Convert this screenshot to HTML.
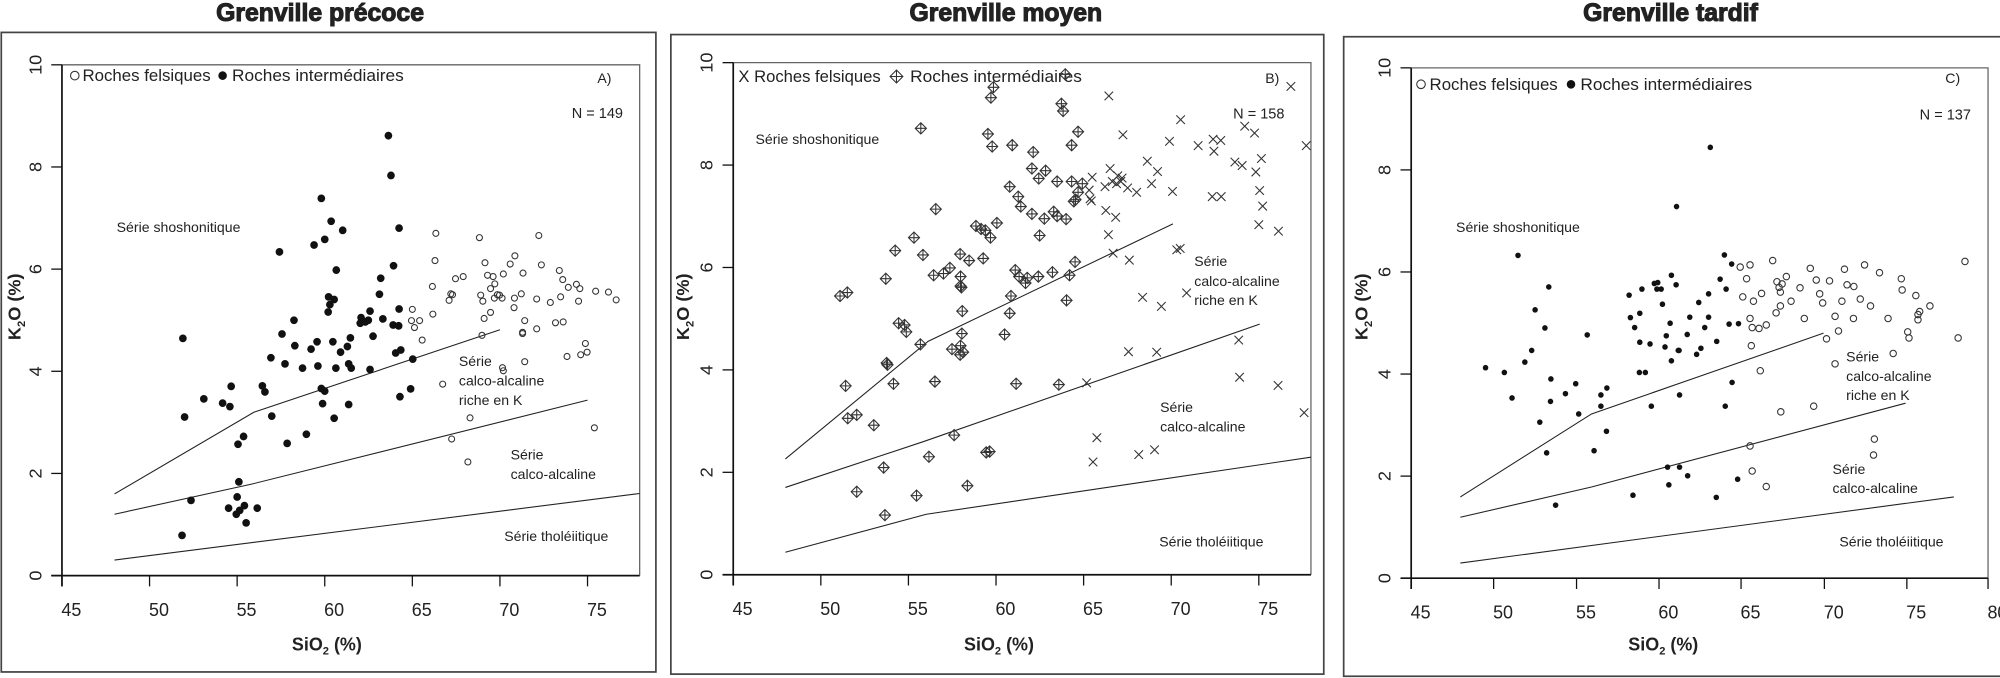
<!DOCTYPE html>
<html><head><meta charset="utf-8"><style>
html,body{margin:0;padding:0;background:#fff;width:2000px;height:678px;overflow:hidden;position:relative}
svg{position:absolute;top:0}
text{font-family:"Liberation Sans",sans-serif;fill:#222}
</style></head><body>
<svg id="A" style="left:0" width="670" height="678" viewBox="0 0 1568 1569" preserveAspectRatio="none"></svg>
<svg id="B" style="left:670px" width="670" height="678" viewBox="0 0 1568 1569" preserveAspectRatio="none"></svg>
<svg id="C" style="left:1330px" width="670" height="678" viewBox="0 0 1568 1569" preserveAspectRatio="none"></svg>
<script>
function P(s){var a=s.trim().split(/\s+/).map(Number),r=[];for(var i=0;i<a.length;i+=2)r.push([a[i],a[i+1]]);return r;}
function build(id,o){
 var h='';
 h+='<text x="'+o.tx+'" y="48" text-anchor="middle" font-size="58" font-weight="bold" stroke="#222" stroke-width="2.5" style="fill:#222">'+o.title+'</text>';
 h+='<rect x="'+o.box[0]+'" y="'+o.box[1]+'" width="'+(o.box[2]-o.box[0])+'" height="'+(o.box[3]-o.box[1])+'" fill="none" stroke="#444" stroke-width="4"/>';
 var L=o.L,T=o.T,R=o.R,B=o.B;
 h+='<polyline points="'+L+','+T+' '+R+','+T+' '+R+','+B+'" fill="none" stroke="#666" stroke-width="3"/>';
 h+='<line x1="'+(L-25)+'" y1="'+B+'" x2="'+R+'" y2="'+B+'" stroke="#111" stroke-width="4"/>';
 h+='<line x1="'+L+'" y1="'+T+'" x2="'+L+'" y2="'+(B+25)+'" stroke="#111" stroke-width="4"/>';
 for(var i=0;i<6;i++){var y=B-(B-T)*i/5;h+='<line x1="'+(L-25)+'" y1="'+y+'" x2="'+L+'" y2="'+y+'" stroke="#111" stroke-width="3"/>';
  h+='<text transform="translate('+(L-48)+','+y+') rotate(-90)" text-anchor="middle" font-size="42">'+(i*2)+'</text>';}
 o.xt.forEach(function(x,i){h+='<line x1="'+x+'" y1="'+B+'" x2="'+x+'" y2="'+(B+25)+'" stroke="#111" stroke-width="3"/>';
  h+='<text x="'+(x+22)+'" y="'+(B+93)+'" text-anchor="middle" font-size="42">'+(45+5*i)+'</text>';});
 h+='<text x="'+o.xlab[0]+'" y="'+o.xlab[1]+'" text-anchor="middle" font-size="42" font-weight="bold">SiO<tspan font-size="26" dy="10">2</tspan><tspan dy="-10"> (%)</tspan></text>';
 h+='<text transform="translate('+o.ylab[0]+','+o.ylab[1]+') rotate(-90)" text-anchor="middle" font-size="42" font-weight="bold">K<tspan font-size="26" dy="10">2</tspan><tspan dy="-10">O (%)</tspan></text>';
 o.lines.forEach(function(l){h+='<polyline points="'+l+'" fill="none" stroke="#222" stroke-width="2.5"/>';});
 o.texts.forEach(function(t){h+='<text x="'+t[0]+'" y="'+t[1]+'" font-size="'+(t[3]||33)+'">'+t[2]+'</text>';});
 h+=o.legend;
 P(o.filled).forEach(function(p){h+='<circle cx="'+p[0]+'" cy="'+p[1]+'" r="'+o.fr+'" fill="#111"/>';});
 P(o.open).forEach(function(p){h+='<circle cx="'+p[0]+'" cy="'+p[1]+'" r="'+o.or+'" fill="none" stroke="#333" stroke-width="2.5"/>';});
 if(o.diam)P(o.diam).forEach(function(p){var x=p[0],y=p[1],s=13;h+='<path d="M'+(x-s)+' '+y+'L'+x+' '+(y-s)+'L'+(x+s)+' '+y+'L'+x+' '+(y+s)+'ZM'+(x-s)+' '+y+'H'+(x+s)+'M'+x+' '+(y-s)+'V'+(y+s)+'" fill="none" stroke="#333" stroke-width="2.5"/>';});
 if(o.cross)P(o.cross).forEach(function(p){var x=p[0],y=p[1],s=10;h+='<path d="M'+(x-s)+' '+(y-s)+'L'+(x+s)+' '+(y+s)+'M'+(x-s)+' '+(y+s)+'L'+(x+s)+' '+(y-s)+'" stroke="#333" stroke-width="2.5"/>';});
 document.getElementById(id).innerHTML=h;
}
var legO='<circle cx="175" cy="175" r="10" fill="none" stroke="#333" stroke-width="2.5"/><text x="193" y="187" font-size="38" textLength="300" lengthAdjust="spacingAndGlyphs">Roches felsiques</text><circle cx="521" cy="175" r="10" fill="#111"/><text x="543" y="187" font-size="38" textLength="402" lengthAdjust="spacingAndGlyphs">Roches intermédiaires</text>';
build('A',{title:'Grenville précoce',tx:749,box:[3,75,1535,1555],L:145,T:150,R:1497,B:1332,
 xt:[145,350,555,760,965,1170,1375],xlab:[765,1505],ylab:[48,710],
 lines:['268,1143 594,954 1170,763','268,1190 590,1120 1375,926','268,1296 1497,1142'],
 texts:[[273,537,'Série shoshonitique'],[1074,847,'Série'],[1074,892,'calco-alcaline'],[1074,937,'riche en K'],[1195,1063,'Série'],[1195,1108,'calco-alcaline'],[1180,1252,'Série tholéiitique'],[1398,192,'A)'],[1338,273,'N = 149',34]],
 legend:legO,fr:9,or:7,
 filled:'909 314 915 406 752 459 775 512 802 533 735 567 760 554 654 583 934 528 921 615 787 625 891 644 769 687 782 693 772 705 768 722 888 681 934 715 845 735 866 720 843 748 855 745 862 741 896 738 920 752 933 754 688 741 660 773 873 778 690 800 779 791 742 791 728 808 820 782 813 802 797 815 634 828 667 842 708 852 744 847 786 852 816 842 822 852 866 855 926 817 938 810 966 831 428 783 477 923 521 933 538 941 541 894 614 893 620 907 752 899 760 905 961 900 936 918 755 934 816 936 432 965 636 963 782 968 570 1010 557 1028 672 1026 717 1005 559 1115 555 1150 447 1158 535 1176 553 1190 561 1181 572 1170 602 1176 576 1210 426 1239',
 open:'1020 540 1018 603 1122 550 1261 545 1135 608 1194 611 1205 592 1267 613 1309 626 1224 632 1178 634 1141 637 1154 640 1084 640 1066 645 1012 663 1055 680 1059 682 1051 695 1125 683 1148 668 1158 657 1164 682 1157 690 1169 683 1130 697 1204 690 1220 680 1256 692 1288 700 1312 687 1317 647 1330 665 1349 658 1357 668 1354 697 1394 674 1424 676 1442 694 1133 737 1148 723 1175 690 1203 712 965 716 963 742 982 742 970 758 1013 727 988 787 1128 776 1228 742 1256 761 1300 747 1318 745 1223 769 1223 772 1228 837 1176 851 1178 858 1370 795 1374 815 1359 821 1327 825 1036 889 1100 967 1057 1016 1095 1069 1391 990'});
build('B',{title:'Grenville moyen',tx:786,box:[2,80,1530,1560],L:148,T:145,R:1500,B:1330,
 xt:[148,353,558,763,968,1173,1378],xlab:[770,1505],ylab:[45,710],
 lines:['270,1062 604,790 1177,518','270,1128 596,1021 1380,750','270,1278 600,1190 1500,1058'],
 texts:[[200,333,'Série shoshonitique'],[1227,616,'Série'],[1227,662,'calco-alcaline'],[1227,706,'riche en K'],[1147,954,'Série'],[1147,999,'calco-alcaline'],[1145,1265,'Série tholéiitique'],[1393,192,'B)'],[1318,274,'N = 158',34]],
 legend:'<text x="160" y="190" font-size="38" textLength="333" lengthAdjust="spacingAndGlyphs">X Roches felsiques</text><path d="M515 177L530 162L545 177L530 192ZM515 177H545M530 162V192" fill="none" stroke="#333" stroke-width="2.5"/><text x="562" y="190" font-size="38" textLength="402" lengthAdjust="spacingAndGlyphs">Roches intermédiaires</text>',
 fr:0,or:0,filled:'',open:'',
 diam:'757 202 751 226 916 240 920 257 587 297 744 310 955 305 754 339 801 336 940 336 850 352 847 390 879 395 863 413 906 420 940 420 965 425 955 445 949 462 945 466 795 432 815 455 821 478 847 495 898 490 906 500 876 506 927 507 765 516 716 523 728 530 738 533 750 550 622 484 571 550 527 580 592 590 679 588 700 603 733 598 865 545 948 606 655 620 640 633 617 637 808 625 817 640 836 643 832 655 862 640 895 630 935 637 505 645 680 640 680 662 682 665 684 720 415 677 398 685 798 685 795 725 928 695 535 748 549 752 553 768 683 772 783 774 586 797 660 808 680 800 686 815 679 821 507 840 509 844 411 893 523 888 620 883 810 888 910 890 416 968 437 960 477 984 665 1007 606 1057 740 1047 748 1045 500 1082 437 1138 696 1124 577 1147 503 1192 925 172',
 cross:'1453 200 1027 222 1195 277 1060 312 1345 292 1368 308 1169 327 1236 337 1271 322 1289 325 1273 350 1489 337 1384 367 1322 375 1339 383 1117 373 1141 397 1371 398 1127 425 1380 441 1176 443 1092 445 1071 435 1030 390 1048 407 1058 412 1045 425 1035 420 1055 420 988 410 981 440 1018 432 983 460 986 465 1269 455 1290 455 1387 477 1020 487 1043 503 1378 520 1424 535 1026 543 1037 586 1186 578 1194 575 1075 602 1209 678 1106 688 1150 709 1073 814 1139 815 1331 787 1333 873 1423 892 975 886 1484 955 999 1013 990 1069 1097 1052 1134 1041'});
build('C',{title:'Grenville tardif',tx:797,box:[32,85,1575,1565],L:190,T:157,R:1540,B:1338,
 xt:[190,383,577,770,962,1157,1350,1540],xlab:[780,1505],ylab:[88,710],
 lines:['305,1150 612,958 1155,771','305,1197 612,1127 1347,933','305,1303 1460,1150'],
 texts:[[295,537,'Série shoshonitique'],[1208,837,'Série'],[1208,882,'calco-alcaline'],[1208,926,'riche en K'],[1176,1097,'Série'],[1176,1141,'calco-alcaline'],[1192,1265,'Série tholéiitique'],[1440,192,'C)'],[1380,276,'N = 137',34]],
 legend:'<circle cx="213" cy="195" r="10" fill="none" stroke="#333" stroke-width="2.5"/><text x="233" y="208" font-size="38" textLength="300" lengthAdjust="spacingAndGlyphs">Roches felsiques</text><circle cx="564" cy="195" r="10" fill="#111"/><text x="586" y="208" font-size="38" textLength="402" lengthAdjust="spacingAndGlyphs">Roches intermédiaires</text>',
 fr:6.5,or:7.5,
 filled:'890 341 811 478 440 591 512 664 480 717 503 759 456 838 472 811 364 851 408 862 426 921 517 877 516 929 491 977 507 1048 551 911 575 888 582 958 634 914 634 940 648 898 647 998 618 1043 602 775 528 1169 700 683 703 735 713 758 725 725 730 669 725 792 724 862 738 862 749 796 759 656 767 654 765 669 775 669 778 704 799 637 810 659 787 777 784 803 796 748 799 835 815 811 817 811 836 774 842 734 858 820 863 700 868 806 877 758 886 680 886 734 905 790 913 646 923 590 927 669 940 611 934 750 956 749 941 885 925 940 752 940 818 914 790 1081 818 1081 837 1101 954 1109 709 1146 793 1122 904 1151',
 open:'960 618 983 613 975 645 1036 603 1124 621 1251 613 1286 631 1337 645 1486 605 1204 623 1068 640 1046 652 1051 665 1054 676 1058 657 1100 666 1138 648 1169 650 1210 659 1226 663 966 687 991 697 1010 679 1079 697 1146 680 1153 701 1198 697 1241 692 1339 671 1371 684 1380 721 1376 728 1376 740 1404 708 1265 708 1306 737 1054 708 1044 724 983 737 1110 737 1182 732 1225 737 1021 752 1004 760 988 758 1190 766 1162 784 1355 782 1352 768 1470 782 1318 818 986 800 1007 858 1182 842 1055 953 1132 940 1274 1016 1272 1053 983 1032 988 1090 1021 1126'});
</script>
</body></html>
